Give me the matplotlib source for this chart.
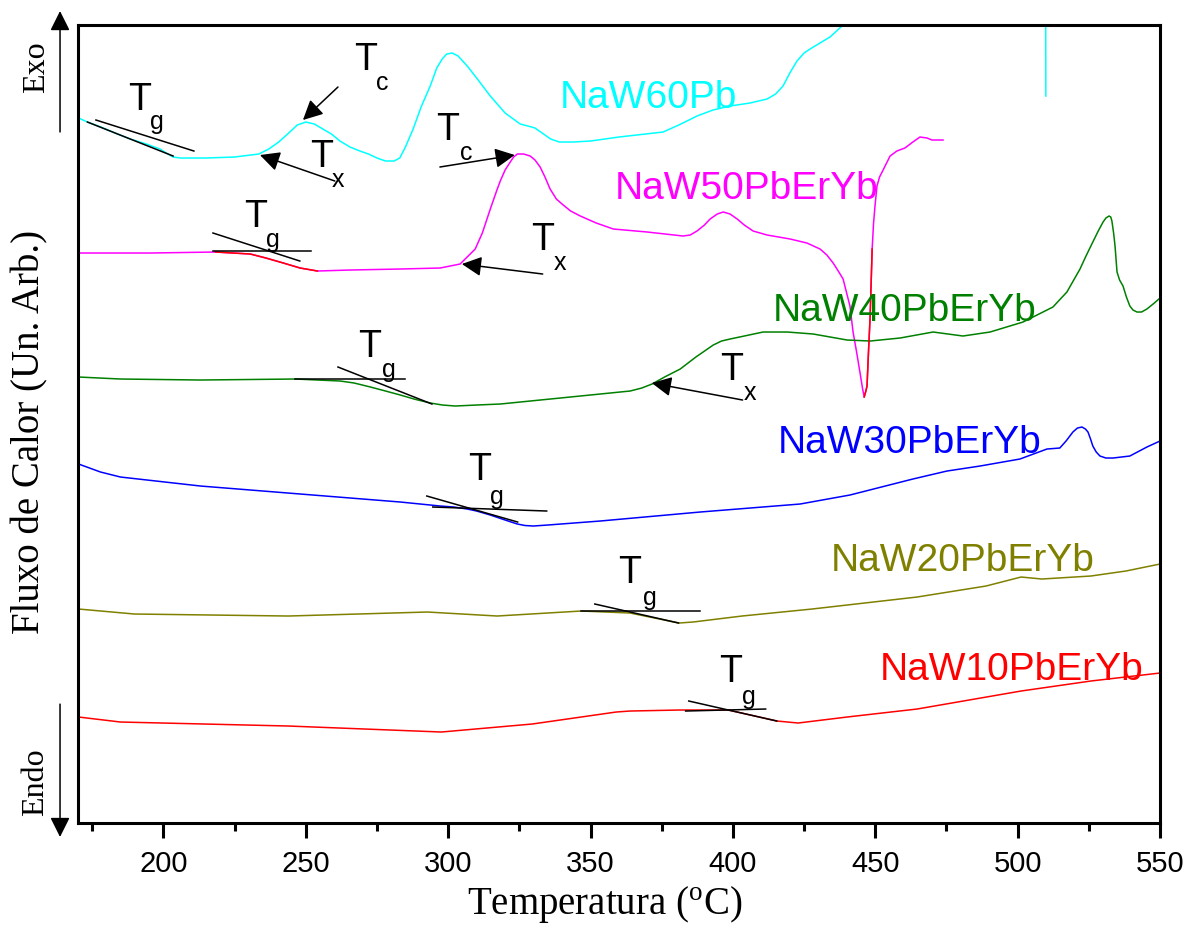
import numpy as np
import matplotlib.pyplot as plt

plt.rcParams['font.family'] = 'Liberation Sans'
plt.rcParams['mathtext.fontset'] = 'custom'
plt.rcParams['mathtext.rm'] = 'Liberation Serif'

# -----------------------------
# DSC curves (temperature in C, heat flow in arbitrary units, offset per sample)
# -----------------------------

t_60 = [170.2, 173.3, 178, 183, 188.3, 194, 198.8, 201, 203.4, 206, 215, 225, 233.5, 237,
        240.5, 244, 247, 250, 253, 256, 259, 262, 265.5, 269, 272, 275, 278, 281, 283, 285,
        287.7, 290.5, 293.7, 296, 297.9, 299.5, 301.4, 303.5, 306.7, 310, 314.8, 320, 325.3,
        328, 330.5, 333, 336, 339, 343.9, 350, 360, 375.5, 381, 387.4, 393, 399, 406, 412,
        415, 417.6, 420, 422.5, 425, 427.1, 430, 434.1, 438.7, 442, 470, 509.8, 509.9]
y_60 = [705, 701, 696, 690, 684, 679, 674, 670, 666, 665, 665, 666, 669, 674,
        681, 690, 698, 701, 699, 694, 689, 682, 676, 672, 669, 665, 662, 662, 665, 676,
        694, 716, 737, 755, 764, 769, 770, 767, 757, 745, 727, 710, 699,
        697, 695, 690, 684, 681, 681, 682, 686, 691, 698, 707, 713, 717, 720, 724,
        729, 737, 750, 762, 770, 774, 779, 786, 798, 808, 900, 900, 727]

t_50 = [170.2, 195.4, 218.3, 230.5, 236, 242.1, 248, 254.1, 265.6, 283.2, 297.2, 304.2,
        309.5, 312, 314.8, 317, 318.3, 320, 321.8, 323, 324.3, 326.5, 328.8, 330.5, 332.3,
        334, 335.8, 338, 340, 343, 346.4, 352, 358, 369.9, 382.5, 385, 387.4, 390, 392,
        394.5, 396.6, 399, 401.5, 404, 407.1, 412, 420.1, 426, 430.6, 433, 435.2, 437,
        438.7, 441.1, 442.2, 443.5, 444.6, 445.5, 446.1, 446.7, 447.1, 447.6, 448.2, 448.9,
        449.4, 449.9, 450.6, 451.5, 452.4, 455.2, 457.6, 460.4, 463.2, 465.7, 468.2, 469.9,
        473.8]
y_50 = [570, 570, 571, 569, 565, 560, 555, 552, 553, 554, 555, 559,
        574, 590, 614, 632, 642, 653, 661, 666, 669, 669, 667, 663, 656,
        646, 634, 624, 619, 612, 607, 600, 594, 591, 587, 588, 592, 598, 604,
        609, 611, 609, 604, 598, 592, 588, 584, 580, 574, 568, 560, 552,
        544, 517, 491, 470, 451, 435, 426, 432, 437, 470, 507, 574,
        600, 617, 637, 646, 651, 667, 672, 675, 681, 686, 685, 683,
        683]

# parts of the NaW50PbErYb trace drawn in red in the original
t_50_red1 = [218.3, 230.5, 236, 242.1, 248, 254.1]
y_50_red1 = [571, 569, 565, 560, 555, 552]
t_50_red2 = [446.1, 446.7, 447.1, 447.6, 448.2, 448.9]
y_50_red2 = [426, 432, 437, 470, 507, 574]

t_40 = [170.2, 184.9, 213, 246.3, 262.1, 267, 272.7, 278, 283.2, 288, 293.7, 298, 302.5,
        310, 318.3, 346.4, 363.9, 368, 371.6, 376, 381.5, 387, 393.1, 396, 399, 404, 410.6,
        419.1, 428.2, 440.1, 448.2, 458.7, 470.3, 480.8, 490.3, 501.9, 512.4, 515, 517.3,
        519.5, 521.9, 524, 526.4, 528.3, 530, 531, 532.1, 532.7, 533.1, 533.7, 534.2, 534.9,
        535.8, 537, 538.2, 539.4, 540.5, 541.9, 543.5, 545.4, 548, 550]
y_40 = [446, 444, 443, 444, 442, 440, 436, 432, 428, 424, 420, 418, 417,
        418, 419, 427, 432, 435, 439, 446, 454, 466, 478, 482, 484, 487, 491,
        491, 489, 483, 482, 485, 491, 487, 491, 501, 516, 524, 531,
        542, 554, 567, 581, 592, 601, 605, 607, 606, 602, 590, 577, 551,
        543, 537, 526, 517, 513, 511, 511, 514, 520, 525]

t_30 = [170.2, 177.9, 184.9, 213, 248.1, 283.2, 297.2, 302, 306.7, 310, 314.8, 320, 324.3,
        327, 329.9, 335, 353.4, 388.5, 423.6, 441.1, 463.2, 475.2, 486.8, 500.8, 510.3, 514.8,
        517, 519.4, 521, 522.6, 523.8, 524.7, 525.6, 526.4, 527.6, 528.9, 531, 533.5, 539.4,
        545.4, 550]
y_30 = [359, 351, 346, 337, 329, 321, 317, 316, 314, 312, 308, 303, 299,
        297.5, 297, 298, 302, 311, 319, 328, 344, 352, 357, 364, 374, 375,
        382, 391, 395, 396, 394, 391, 384, 377, 371, 367, 365, 365, 367,
        376, 382]

t_20 = [170.2, 189.8, 243.9, 292.7, 317.2, 346.7, 363.9, 381.1, 386, 403.2, 427.8, 464.7,
        488.9, 501.2, 508.5, 525.7, 538, 550]
y_20 = [214, 209, 207, 211, 207, 212, 210, 200, 201, 207, 214, 226,
        237, 246, 244, 247, 252, 259]

t_10 = [170.2, 184.9, 243.9, 297.6, 329.5, 359, 363.9, 381.1, 398.3, 415.5, 422.9, 440.1,
        464.7, 501.2, 525.7, 550]
y_10 = [106, 101, 97, 91, 99, 111, 112, 113, 113, 102, 100, 106,
        114, 132, 142, 150]

names = ['NaW60Pb', 'NaW50PbErYb', 'NaW40PbErYb', 'NaW30PbErYb', 'NaW20PbErYb', 'NaW10PbErYb']
colors = ['#00FFFF', '#FF00FF', '#008000', '#0000FF', '#808000', '#FF0000']
curves = [(t_60, y_60), (t_50, y_50), (t_40, y_40), (t_30, y_30), (t_20, y_20), (t_10, y_10)]

# label anchor (left, baseline) for each sample name
name_x = [339.2, 358.5, 413.9, 415.7, 434.3, 451.5]
name_y = [716, 625, 503, 371, 253, 144]

# tangent lines used to mark Tg: each is ((t0, t1), (y0, y1))
tangents = [
    ((176.3, 210.7), (703, 672)), ((173.3, 203.4), (701, 667)),
    ((217.4, 247.9), (590, 562)), ((217.4, 251.9), (572, 572)),
    ((246.2, 284.8), (444, 444)), ((261.3, 294.3), (456, 419)),
    ((292.5, 324.4), (327, 301)), ((294.6, 334.6), (316, 312)),
    ((346.6, 388.3), (212, 212)), ((351.5, 380.9), (219, 200)),
    ((383.4, 411.5), (112, 114)), ((384.5, 415.4), (122, 102)),
]

# characteristic temperature labels: (main letter, subscript, T pos, sub pos)
marks = [
    ('T', 'g', (191.8, 724), (197.7, 702)),
    ('T', 'g', (232.5, 607), (238.4, 584)),
    ('T', 'g', (272.5, 477), (279.2, 454)),
    ('T', 'g', (311.1, 354), (317.1, 327)),
    ('T', 'g', (363.8, 251), (370.8, 226)),
    ('T', 'g', (399.2, 152), (405.5, 127)),
    ('T', 'c', (271.1, 764), (276.7, 741)),
    ('T', 'x', (255.6, 667), (261.3, 644)),
    ('T', 'c', (299.9, 694), (306.2, 671)),
    ('T', 'x', (333.2, 584), (339.2, 561)),
    ('T', 'x', (399.6, 454), (405.9, 431)),
]

# arrows: (tail, head)
arrows = [
    ((261.3, 736), (249.0, 703)),
    ((260.2, 642), (233.9, 668)),
    ((297.1, 656), (323.4, 668)),
    ((333.2, 549), (304.8, 559)),
    ((403.4, 423), (371.5, 440)),
]

# -----------------------------
# Plot
# -----------------------------

fig = plt.figure(figsize=(11.98, 9.29), dpi=100)
ax = fig.add_axes([0.0651, 0.1130, 0.9032, 0.8590])

for (t, y), c in zip(curves, colors):
    ax.plot(t, y, color=c, lw=1.1)
ax.plot(t_50_red1, y_50_red1, color='#FF0000', lw=1.1)
ax.plot(t_50_red2, y_50_red2, color='#FF0000', lw=1.1)

for (tt, yy) in tangents:
    ax.plot(tt, yy, color='black', lw=1.1)

for name, c, nx, ny in zip(names, colors, name_x, name_y):
    ax.text(nx, ny, name, color=c, fontsize=28, ha='left', va='baseline')

for big, sub, p1, p2 in marks:
    ax.text(p1[0], p1[1], big, fontsize=27, ha='center', va='center')
    ax.text(p2[0], p2[1], sub, fontsize=18, ha='center', va='center')

for tail, head in arrows:
    ax.annotate('', xy=head, xytext=tail,
                arrowprops=dict(arrowstyle='-|>', color='black', lw=1.1, mutation_scale=30,
                                shrinkA=0, shrinkB=0))

ax.set_xlim(170, 550)
ax.set_ylim(0, 798)
ax.set_xticks(np.arange(200, 551, 50))
ax.set_xticks(np.arange(175, 550, 50), minor=True)
ax.set_yticks([])
ax.tick_params(axis='x', which='major', direction='out', length=11, width=2.2,
               labelsize=21, pad=8)
ax.tick_params(axis='x', which='minor', direction='out', length=6, width=2.2)
for s in ax.spines.values():
    s.set_linewidth(2.2)

# Exo / Endo arrows outside the frame
ax.annotate('', xy=(-0.0166, 1.0175), xytext=(-0.0166, 0.866), xycoords='axes fraction',
            annotation_clip=False,
            arrowprops=dict(arrowstyle='-|>', color='black', lw=1.1, mutation_scale=30,
                            shrinkA=0, shrinkB=0))
ax.annotate('', xy=(-0.0166, -0.0175), xytext=(-0.0166, 0.149), xycoords='axes fraction',
            annotation_clip=False,
            arrowprops=dict(arrowstyle='-|>', color='black', lw=1.1, mutation_scale=30,
                            shrinkA=0, shrinkB=0))
fig.text(37 / 1198, 1 - 67 / 929, 'Exo', family='Liberation Serif', fontsize=23,
         rotation=90, ha='center', va='center')
fig.text(36 / 1198, 1 - 782 / 929, 'Endo', family='Liberation Serif', fontsize=23,
         rotation=90, ha='center', va='center')

fig.text(30 / 1198, 1 - 432 / 929, 'Fluxo de Calor (Un. Arb.)', family='Liberation Serif',
         fontsize=28, rotation=90, ha='center', va='center')
fig.text(605 / 1198, 1 - 905 / 929, r'Temperatura ($^{\mathrm{o}}$C)', family='Liberation Serif',
         fontsize=28, ha='center', va='center')

fig.savefig('out.png', dpi=100)
